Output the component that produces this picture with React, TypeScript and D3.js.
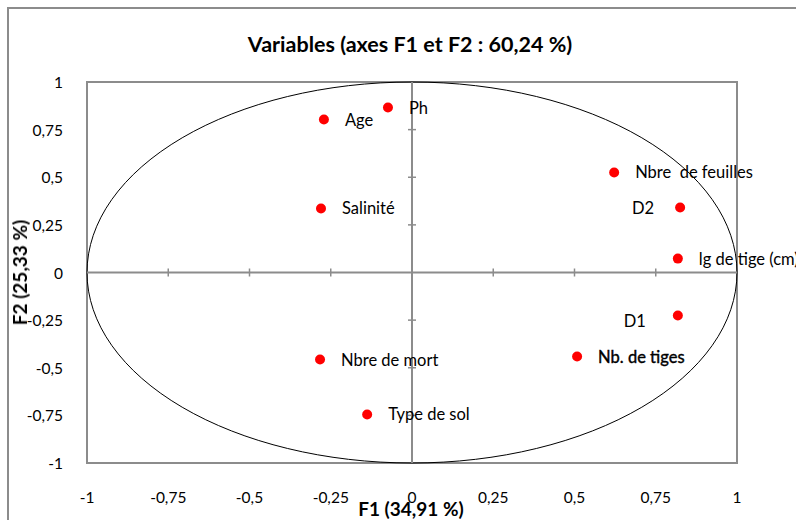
import React, { useEffect, useRef } from 'react';
import * as d3 from 'd3';

// variables (circle of correlations)
const names = [
  'Ph',
  'Age',
  'Salinité',
  'Nbre  de feuilles',
  'D2',
  'lg de tige (cm)',
  'D1',
  'Nb. de tiges',
  'Nbre de mort',
  'Type de sol',
];
const f1 = [-0.074, -0.271, -0.28, 0.622, 0.825, 0.818, 0.818, 0.508, -0.283, -0.138];
const f2 = [0.866, 0.803, 0.336, 0.525, 0.341, 0.073, -0.226, -0.441, -0.457, -0.745];

const ticks = [-1, -0.75, -0.5, -0.25, 0, 0.25, 0.5, 0.75, 1];
const tickLabels = ['-1', '-0,75', '-0,5', '-0,25', '0', '0,25', '0,5', '0,75', '1'];

const title = 'Variables (axes F1 et F2 : 60,24 %)';
const xTitle = 'F1 (34,91 %)';
const yTitle = 'F2 (25,33 %)';

// labels drawn on the left of their dot
const leftSide = { D2: -26, D1: -32 };

const App = () => {
  const ref = useRef(null);

  useEffect(() => {
    const svg = d3.select(ref.current);
    svg.selectAll('*').remove();

    const W = 796;
    const H = 520;
    const font = 'Lato, "Open Sans", sans-serif';

    svg.attr('width', W).attr('height', H).style('font-family', font);

    // chart frame (runs past the window on the right and bottom)
    svg
      .append('rect')
      .attr('x', 8)
      .attr('y', 8)
      .attr('width', 820)
      .attr('height', 540)
      .attr('fill', '#fff')
      .attr('stroke', '#8c8c8c')
      .attr('stroke-width', 2);

    const x = d3.scaleLinear().domain([-1, 1]).range([87, 737]);
    const y = d3.scaleLinear().domain([-1, 1]).range([463, 82]);

    // plot area border
    svg
      .append('rect')
      .attr('x', x(-1))
      .attr('y', y(1))
      .attr('width', x(1) - x(-1))
      .attr('height', y(-1) - y(1))
      .attr('fill', 'none')
      .attr('stroke', '#8c8c8c')
      .attr('stroke-width', 2);

    // unit circle
    svg
      .append('ellipse')
      .attr('cx', x(0))
      .attr('cy', y(0))
      .attr('rx', x(1) - x(0))
      .attr('ry', y(0) - y(1))
      .attr('fill', 'none')
      .attr('stroke', '#000')
      .attr('stroke-width', 1);

    // axes through the origin
    const axisColor = '#8c8c8c';
    svg
      .append('line')
      .attr('x1', x(-1))
      .attr('x2', x(1))
      .attr('y1', y(0))
      .attr('y2', y(0))
      .attr('stroke', axisColor)
      .attr('stroke-width', 2);
    svg
      .append('line')
      .attr('x1', x(0))
      .attr('x2', x(0))
      .attr('y1', y(-1))
      .attr('y2', y(1))
      .attr('stroke', axisColor)
      .attr('stroke-width', 2);

    const inner = ticks.filter(t => Math.abs(t) < 1 && t !== 0);
    svg
      .selectAll('.xt')
      .data(inner)
      .enter()
      .append('line')
      .attr('x1', d => x(d))
      .attr('x2', d => x(d))
      .attr('y1', y(0) - 4)
      .attr('y2', y(0) + 4)
      .attr('stroke', axisColor)
      .attr('stroke-width', 1.5);
    svg
      .selectAll('.yt')
      .data(inner)
      .enter()
      .append('line')
      .attr('x1', x(0) - 4)
      .attr('x2', x(0) + 4)
      .attr('y1', d => y(d))
      .attr('y2', d => y(d))
      .attr('stroke', axisColor)
      .attr('stroke-width', 1.5);

    // tick labels
    svg
      .selectAll('.xl')
      .data(ticks)
      .enter()
      .append('text')
      .attr('x', d => x(d))
      .attr('y', 497)
      .attr('text-anchor', 'middle')
      .attr('dominant-baseline', 'central')
      .attr('font-size', 15.5)
      .attr('fill', '#000')
      .text((d, i) => tickLabels[i]);
    svg
      .selectAll('.yl')
      .data(ticks)
      .enter()
      .append('text')
      .attr('x', 63)
      .attr('y', d => y(d))
      .attr('text-anchor', 'end')
      .attr('dominant-baseline', 'central')
      .attr('font-size', 15.5)
      .attr('fill', '#000')
      .text((d, i) => tickLabels[i]);

    // titles
    svg
      .append('text')
      .attr('x', 410)
      .attr('y', 44)
      .attr('text-anchor', 'middle')
      .attr('dominant-baseline', 'central')
      .attr('font-size', 21.5)
      .attr('font-weight', 'bold')
      .text(title);
    svg
      .append('text')
      .attr('x', 411)
      .attr('y', 508)
      .attr('text-anchor', 'middle')
      .attr('dominant-baseline', 'central')
      .attr('font-size', 19)
      .attr('font-weight', 'bold')
      .text(xTitle);
    svg
      .append('text')
      .attr('transform', `translate(19, ${y(0)}) rotate(-90)`)
      .attr('text-anchor', 'middle')
      .attr('dominant-baseline', 'central')
      .attr('font-size', 19)
      .attr('font-weight', 'bold')
      .text(yTitle);

    // points
    const pts = names.map((n, i) => ({ name: n, f1: f1[i], f2: f2[i] }));
    svg
      .selectAll('.dot')
      .data(pts)
      .enter()
      .append('circle')
      .attr('cx', d => x(d.f1))
      .attr('cy', d => y(d.f2))
      .attr('r', 5)
      .attr('fill', '#ff0000');

    svg
      .selectAll('.lbl')
      .data(pts)
      .enter()
      .append('text')
      .attr('x', d => x(d.f1) + (leftSide[d.name] !== undefined ? leftSide[d.name] : 21))
      .attr('y', d => y(d.f2) + (d.name === 'D1' ? 5 : 0))
      .attr('text-anchor', d => (leftSide[d.name] !== undefined ? 'end' : 'start'))
      .attr('dominant-baseline', 'central')
      .attr('font-size', 16.5)
      .attr('fill', '#000')
      .attr('stroke', d => (d.name === 'Nb. de tiges' ? '#000' : 'none'))
      .attr('stroke-width', 0.4)
      .style('white-space', 'pre')
      .text(d => d.name);
  }, []);

  return (
    <div style={{ position: 'fixed', left: 0, top: 0 }}>
      <svg ref={ref} style={{ display: 'block' }} />
    </div>
  );
};

export default App;
